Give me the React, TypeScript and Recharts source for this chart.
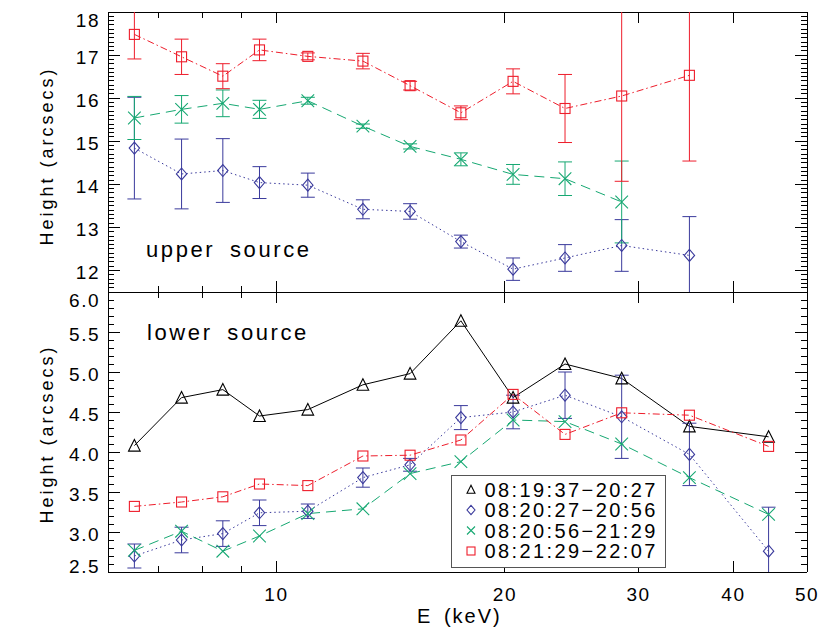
import React from "react";
import { LineChart, Line, XAxis, YAxis, ErrorBar } from "recharts";

// energy bins (keV)
const energies = [6.5, 7.5, 8.5, 9.5, 11, 13, 15, 17.5, 20.5, 24, 28.5, 35, 44.5];

// upper source heights (arcsecs)
const upperRed = [17.48, 16.96, 16.51, 17.12, 16.97, 16.86, 16.29, 15.66, 16.39, 15.76, 16.05, 16.53];
const upperRedErr = [0.57, 0.41, 0.29, 0.25, 0.08, 0.18, 0.1, 0.16, 0.29, 0.79, 1.98, 1.99];
const upperGreen = [15.54, 15.74, 15.88, 15.74, 15.94, 15.35, 14.88, 14.58, 14.23, 14.13, 13.59, null];
const upperGreenErr = [0.5, 0.32, 0.31, 0.21, 0.08, 0.05, 0.06, 0.15, 0.23, 0.39, 0.95, null];
const upperBlue = [14.84, 14.24, 14.32, 14.04, 13.98, 13.42, 13.37, 12.67, 12.03, 12.29, 12.58, 12.35];
const upperBlueErr = [1.18, 0.81, 0.74, 0.37, 0.28, 0.22, 0.18, 0.15, 0.26, 0.31, 0.6, 0.9];

// lower source heights (arcsecs)
const lowerBlack = [4.08, 4.68, 4.78, 4.45, 4.53, 4.84, 4.98, 5.64, 4.68, 5.1, 4.92, 4.32, 4.19];
const lowerBlue = [2.7, 2.9, 2.98, 3.24, 3.26, 3.68, 3.84, 4.43, 4.5, 4.71, 4.44, 3.97, 2.76];
const lowerBlueErr = [0.15, 0.16, 0.16, 0.16, 0.09, 0.12, 0.08, 0.15, 0.21, 0.29, 0.52, 0.39, 0.55];
const lowerGreen = [2.77, 3.01, 2.76, 2.95, 3.23, 3.29, 3.73, 3.88, 4.4, 4.38, 4.1, 3.68, 3.22];
const lowerRed = [3.32, 3.375, 3.44, 3.6, 3.58, 3.95, 3.96, 4.15, 4.72, 4.22, 4.49, 4.46, 4.07];

const legendLabels = ["08:19:37−20:27", "08:20:27−20:56", "08:20:56−21:29", "08:21:29−22:07"];

// axes
const xMajorTicks = [10, 20, 30, 40, 50];
const xMinorTicks = [7, 8, 9];
const upperMajorTicks = [12, 13, 14, 15, 16, 17, 18];
const lowerMajorTicks = [2.5, 3.0, 3.5, 4.0, 4.5, 5.0, 5.5, 6.0];

const upperDomain = [11.5, 18];
const lowerDomain = [2.5, 6.0];

const RED = "#ee1d2b";
const GREEN = "#16a872";
const BLUE = "#3a3a9c";
const BLACK = "#000";
const FONT = "'Liberation Sans', Arial, sans-serif";

const upperData = upperRed.map((v, i) => ({
  e: energies[i],
  red: v,
  redErr: upperRedErr[i],
  green: upperGreen[i],
  greenErr: upperGreenErr[i],
  blue: upperBlue[i],
  blueErr: upperBlueErr[i],
}));

const lowerData = energies.map((e, i) => ({
  e,
  black: lowerBlack[i],
  blue: lowerBlue[i],
  blueErr: lowerBlueErr[i],
  green: lowerGreen[i],
  red: lowerRed[i],
}));

const xTicks = [...xMinorTicks, ...xMajorTicks];

function minorTicks(lo: number, hi: number) {
  const n = Math.round((hi - lo) * 10);
  return Array.from({ length: n + 1 }, (_, i) => +(lo + i * 0.1).toFixed(1));
}

const near = (v: number, list: number[]) => list.some((m) => Math.abs(m - v) < 1e-6);

type Shape = "square" | "diamond" | "cross" | "triangle";

function marker(shape: Shape, x: number, y: number, color: string, s: number, key?: any) {
  const common = { fill: "none", stroke: color, strokeWidth: 1.1 };
  if (shape === "square")
    return <rect key={key} x={x - s} y={y - s} width={2 * s} height={2 * s} {...common} />;
  if (shape === "diamond")
    return (
      <polygon
        key={key}
        points={`${x},${y - s * 1.15} ${x + s},${y} ${x},${y + s * 1.15} ${x - s},${y}`}
        {...common}
      />
    );
  if (shape === "cross")
    return (
      <path
        key={key}
        d={`M${x - s},${y - s}L${x + s},${y + s}M${x - s},${y + s}L${x + s},${y - s}`}
        {...common}
      />
    );
  return (
    <polygon
      key={key}
      points={`${x - s},${y + s * 0.95} ${x},${y - s * 1.05} ${x + s},${y + s * 0.95}`}
      {...common}
    />
  );
}

const dot = (shape: Shape, color: string, s: number) => (props: any) => {
  const { cx, cy, index } = props;
  if (cy == null || Number.isNaN(cy)) return <g key={`d${index}`} />;
  return marker(shape, cx, cy, color, s, `d${index}`);
};

const xTick = (side: "top" | "bottom", labels: boolean) => (props: any) => {
  const { x, y, payload } = props;
  const v = payload.value;
  const major = near(v, xMajorTicks);
  const len = major ? 11 : 6;
  const dir = side === "bottom" ? -1 : 1;
  return (
    <g>
      <line x1={x} x2={x} y1={y} y2={y + dir * len} stroke="#000" strokeWidth={1} shapeRendering="crispEdges" />
      {labels && major && (
        <text x={x} y={y + 29} textAnchor="middle" fontSize={19} letterSpacing={1.5} fontFamily={FONT} fill="#000">
          {v}
        </text>
      )}
    </g>
  );
};

const yTick =
  (side: "left" | "right", majors: number[], digits: number, top: number, bottom: number) =>
  (props: any) => {
    const { x, y, payload } = props;
    const v = payload.value;
    const major = near(v, majors);
    const len = major ? 12 : 6;
    const dir = side === "left" ? 1 : -1;
    const base = Math.min(Math.max(y + 9, top + 15), bottom + 1);
    return (
      <g>
        <line x1={x} x2={x + dir * len} y1={y} y2={y} stroke="#000" strokeWidth={1} shapeRendering="crispEdges" />
        {side === "left" && major && (
          <text x={x - 8} y={base} textAnchor="end" fontSize={19} letterSpacing={1.5} fontFamily={FONT} fill="#000">
            {v.toFixed(digits)}
          </text>
        )}
      </g>
    );
  };

const PLOT_LEFT = 108;
const PLOT_RIGHT = 807;
const W = 830;

// bare: same scales and offsets, but no axis lines, ticks or labels drawn
function Axes({ domain, majors, digits, top, bottom, labels, bare }: any) {
  const ticks = minorTicks(domain[0], domain[1]);
  const common = {
    type: "number" as const,
    allowDataOverflow: true,
    interval: 0 as const,
    tickSize: 0,
    tickMargin: 0,
    axisLine: bare ? false : { stroke: "#000", shapeRendering: "crispEdges" },
    tickLine: false,
  };
  return [
    <XAxis
      key="xb"
      xAxisId="b"
      dataKey="e"
      scale="log"
      domain={[6, 50]}
      ticks={xTicks}
      height={1}
      tick={bare ? false : xTick("bottom", labels)}
      orientation="bottom"
      {...common}
    />,
    <XAxis
      key="xt"
      xAxisId="t"
      dataKey="e"
      scale="log"
      domain={[6, 50]}
      ticks={xTicks}
      height={1}
      tick={bare ? false : xTick("top", false)}
      orientation="top"
      {...common}
    />,
    <YAxis
      key="yl"
      yAxisId="l"
      domain={domain}
      ticks={ticks}
      width={1}
      tick={bare ? false : yTick("left", majors, digits, top, bottom)}
      orientation="left"
      {...common}
    />,
    <YAxis
      key="yr"
      yAxisId="r"
      domain={domain}
      ticks={ticks}
      width={1}
      tick={bare ? false : yTick("right", majors, digits, top, bottom)}
      orientation="right"
      {...common}
    />,
  ];
}

const lineProps = {
  xAxisId: "b",
  yAxisId: "l",
  type: "linear" as const,
  strokeWidth: 1,
  isAnimationActive: false,
  activeDot: false,
  connectNulls: false,
};

const DOTTED = "1.5 3";
const DASHED = "10 6";
const DASHDOT = "7 3 1.5 3";

// upper panel plot area spans y = 12..292, lower panel y = 292..572
function UpperPanel({ series }: { series: boolean }) {
  return (
    <LineChart
      width={W}
      height={293}
      data={upperData}
      margin={{ top: 11, right: W - PLOT_RIGHT - 1, bottom: 0, left: PLOT_LEFT - 1 }}
    >
      {Axes({
        domain: upperDomain,
        majors: upperMajorTicks,
        digits: 0,
        top: 12,
        bottom: 292,
        labels: false,
        bare: series,
      })}
      {series && (
        <Line {...lineProps} dataKey="blue" stroke={BLUE} strokeDasharray={DOTTED} dot={dot("diamond", BLUE, 5.2)}>
          <ErrorBar dataKey="blueErr" width={7} stroke={BLUE} strokeWidth={1} direction="y" />
        </Line>
      )}
      {series && (
        <Line {...lineProps} dataKey="green" stroke={GREEN} strokeDasharray={DASHED} dot={dot("cross", GREEN, 6.3)}>
          <ErrorBar dataKey="greenErr" width={7} stroke={GREEN} strokeWidth={1} direction="y" />
        </Line>
      )}
      {series && (
        <Line {...lineProps} dataKey="red" stroke={RED} strokeDasharray={DASHDOT} dot={dot("square", RED, 5)}>
          <ErrorBar dataKey="redErr" width={7} stroke={RED} strokeWidth={1} direction="y" />
        </Line>
      )}
    </LineChart>
  );
}

function LowerPanel({ series }: { series: boolean }) {
  return (
    <LineChart
      width={W}
      height={344}
      data={lowerData}
      margin={{ top: 0, right: W - PLOT_RIGHT - 1, bottom: 62, left: PLOT_LEFT - 1 }}
    >
      {Axes({
        domain: lowerDomain,
        majors: lowerMajorTicks,
        digits: 1,
        top: 1,
        bottom: 281,
        labels: true,
        bare: series,
      })}
      {series && <Line {...lineProps} dataKey="black" stroke={BLACK} dot={dot("triangle", BLACK, 5.8)} />}
      {series && (
        <Line {...lineProps} dataKey="blue" stroke={BLUE} strokeDasharray={DOTTED} dot={dot("diamond", BLUE, 5.2)}>
          <ErrorBar dataKey="blueErr" width={7} stroke={BLUE} strokeWidth={1} direction="y" />
        </Line>
      )}
      {series && (
        <Line {...lineProps} dataKey="green" stroke={GREEN} strokeDasharray={DASHED} dot={dot("cross", GREEN, 6.3)} />
      )}
      {series && (
        <Line {...lineProps} dataKey="red" stroke={RED} strokeDasharray={DASHDOT} dot={dot("square", RED, 5)} />
      )}
    </LineChart>
  );
}

// shows the series only inside the plot rectangle, like a clipped plot window
function Clipped({ left, top, width, height, chartTop, children }: any) {
  return (
    <div style={{ position: "absolute", left, top, width, height, overflow: "hidden" }}>
      <div style={{ position: "absolute", left: -left, top: chartTop - top }}>{children}</div>
    </div>
  );
}

const legendShapes: [Shape, string][] = [
  ["triangle", BLACK],
  ["diamond", BLUE],
  ["cross", GREEN],
  ["square", RED],
];

function Overlay() {
  const textStyle = { fontFamily: FONT, fill: "#000" };
  return (
    <svg width={W} height={635} style={{ position: "absolute", left: 0, top: 0, pointerEvents: "none" }}>
      <text x={146} y={257} fontSize={22} letterSpacing={2.6} wordSpacing={6} {...textStyle}>
        upper source
      </text>
      <text x={147} y={340} fontSize={22} letterSpacing={2.6} wordSpacing={6} {...textStyle}>
        lower source
      </text>
      <text
        x={0}
        y={0}
        transform="translate(53,156) rotate(-90)"
        textAnchor="middle"
        fontSize={18}
        letterSpacing={3}
        {...textStyle}
      >
        Height (arcsecs)
      </text>
      <text
        x={0}
        y={0}
        transform="translate(53,434) rotate(-90)"
        textAnchor="middle"
        fontSize={18}
        letterSpacing={3}
        {...textStyle}
      >
        Height (arcsecs)
      </text>
      <text x={417} y={623} fontSize={20} letterSpacing={2} wordSpacing={4} {...textStyle}>
        E (keV)
      </text>
      <rect x={451.5} y={475.5} width={214} height={92} fill="#fff" stroke="#555" strokeWidth={1} />
      {legendLabels.map((label, i) => {
        const base = 496.5 + i * 20.5;
        const [shape, color] = legendShapes[i];
        return (
          <g key={label}>
            {marker(shape, 471, base - 7, color, 4)}
            <text x={484.5} y={base} fontSize={20} letterSpacing={2.4} {...textStyle}>
              {label}
            </text>
          </g>
        );
      })}
    </svg>
  );
}

export default function App() {
  return (
    <div style={{ position: "absolute", left: 0, top: 0, width: W, height: 635, background: "#fff" }}>
      <div style={{ position: "absolute", left: 0, top: 0 }}>
        <UpperPanel series={false} />
      </div>
      <div style={{ position: "absolute", left: 0, top: 291 }}>
        <LowerPanel series={false} />
      </div>
      <Clipped left={PLOT_LEFT} top={12} width={PLOT_RIGHT - PLOT_LEFT} height={280} chartTop={0}>
        <UpperPanel series />
      </Clipped>
      <Clipped left={PLOT_LEFT} top={292} width={PLOT_RIGHT - PLOT_LEFT} height={280} chartTop={291}>
        <LowerPanel series />
      </Clipped>
      <Overlay />
    </div>
  );
}
